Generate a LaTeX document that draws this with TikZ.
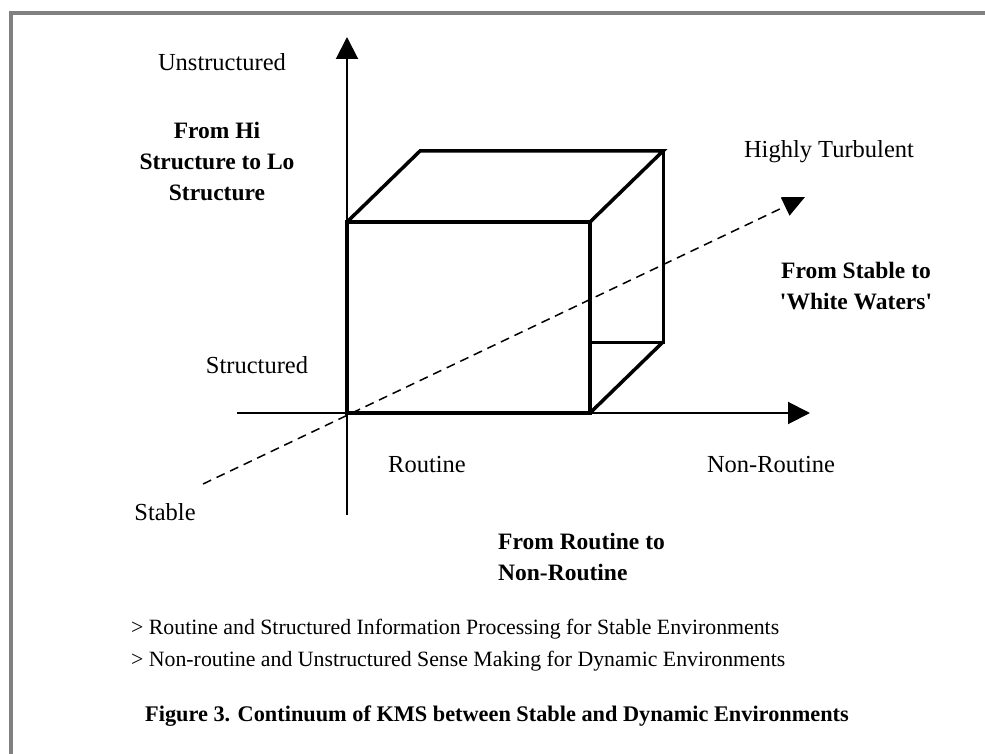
\documentclass[tikz,border=0pt]{standalone}
\usepackage{fontspec}
\setmainfont{Liberation Serif}
\usetikzlibrary{arrows.meta}
\begin{document}
\begin{tikzpicture}[x=1pt,y=-1pt,
  lbl/.style={inner sep=0pt,font=\fontsize{24.5}{31}\selectfont},
  blbl/.style={inner sep=0pt,font=\fontsize{23.5}{31}\selectfont\bfseries},
  txt/.style={inner sep=0pt,font=\fontsize{21.8}{32}\selectfont,align=left,anchor=west},
  axis/.style={line width=2pt,-{Triangle[length=22pt,width=22pt]}},
  cube/.style={line width=3.5pt,line cap=round,line join=miter},
  frame/.style={draw=black!50,line width=4pt}]
\useasboundingbox (0,0) rectangle (985,754);
\fill[white] (0,0) rectangle (985,754);
% frame (top and left visible)
\draw[frame] (11,754) -- (11,13) -- (985,13);
% coordinates
\coordinate (ytop) at (347,37);
\coordinate (ybot) at (347,515);
\coordinate (xleft) at (237,413);
\coordinate (xright) at (810,413);
\coordinate (dstart) at (203,484);
\coordinate (dend) at (805,197);
\coordinate (A) at (347,413);
\coordinate (B) at (590,413);
\coordinate (C) at (590,222);
\coordinate (D) at (347,222);
\coordinate (E) at (420,151);
\coordinate (F) at (663,151);
\coordinate (G) at (663,342);
\coordinate (H) at (590,342);
% axes
\draw[axis] (ybot) -- (ytop);
\draw[axis] (xleft) -- (xright);
% dashed
\draw[line width=1.5pt,dash pattern=on 9pt off 6pt,-{Triangle[length=22pt,width=20pt]}] (dstart) -- (dend);
% cube
\draw[cube] (A) -- (B) -- (C) -- (D) -- cycle;
\draw[cube] (D) -- (E) -- (F) -- (C);
\draw[line width=3pt] (F) -- (G) -- (H);
\draw[cube] (B) -- (G);
% labels
\node[lbl] (unstr) at (222,62) {Unstructured};
\node[blbl,align=center] (hilo) at (217,161) {From Hi\\Structure to Lo\\Structure};
\node[lbl] (turb) at (829,152) {Highly Turbulent};
\node[blbl,align=center] (ww) at (856,286) {From Stable to\\\textquotesingle White Waters\textquotesingle};
\node[lbl] (str) at (257,365) {Structured};
\node[lbl] (rout) at (427,465) {Routine};
\node[lbl] (nrout) at (771,465) {Non-Routine};
\node[lbl] (stab) at (165,512) {Stable};
\node[blbl,align=left,anchor=west] (rtn) at (498,557) {From Routine to\\Non-Routine};
\node[txt] (bul) at (131,645) {> Routine and Structured Information Processing for Stable Environments\\> Non-routine and Unstructured Sense Making for Dynamic Environments};
\node[inner sep=0pt,font=\fontsize{22.3}{28}\selectfont\bfseries] (cap) at (497,716) {Figure 3. Continuum of KMS between Stable and Dynamic Environments};
\end{tikzpicture}
\end{document}
